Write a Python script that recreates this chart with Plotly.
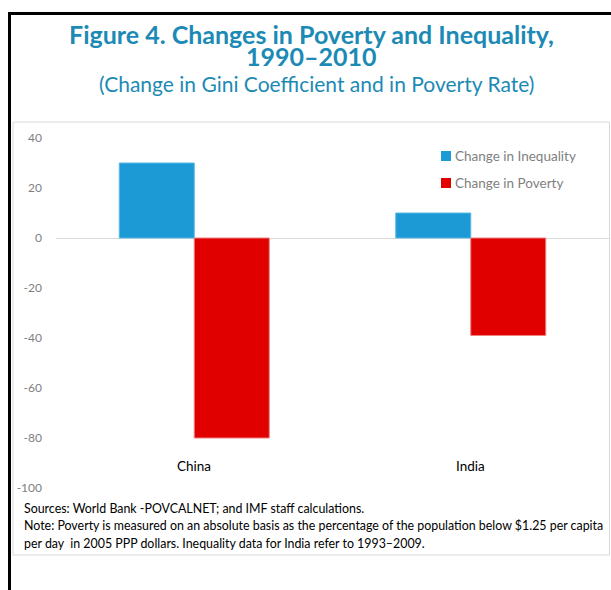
import plotly.graph_objects as go

# ---------------------------------------------
# data
# ---------------------------------------------
countries = ["China", "India"]
change_inequality = [30, 10]
change_poverty = [-80, -39]
y_ticks = [40, 20, 0, -20, -40, -60, -80, -100]
y_ticktext = ["40", "20", "0", "-20", "-40", "-60", "-80", "-100"]

series_names = ["Change in Inequality", "Change in Poverty"]
blue = "#1B9AD6"
red = "#E00000"
teal = "#1C8AB4"
grey_txt = "#7F7F7F"

W, H = 611, 590


def px_x(p):
    return p / W


def px_y(p):
    return 1 - p / H


fig = go.Figure()

fig.add_trace(go.Bar(
    x=countries, y=change_inequality, name=series_names[0],
    marker=dict(color=blue, line=dict(color="#5BB8E6", width=1)),
))
fig.add_trace(go.Bar(
    x=countries, y=change_poverty, name=series_names[1],
    marker=dict(color=red, line=dict(color="#EE8080", width=1)),
))

# category labels sit inside the plot, above the -100 tick
for c in countries:
    fig.add_annotation(x=c, y=-91, xref="x", yref="y", text=c, showarrow=False,
                       font=dict(size=13.5, color="#000000"))

# legend drawn by hand (square right next to the text)
for i, (nm, col) in enumerate(zip(series_names, [blue, red])):
    yc = 156 + 27 * i
    fig.add_shape(type="rect", xref="paper", yref="paper",
                  x0=px_x(441), x1=px_x(451), y0=px_y(yc - 5), y1=px_y(yc + 5),
                  fillcolor=col, line=dict(width=0))
    fig.add_annotation(x=px_x(453), y=px_y(yc), xref="paper", yref="paper",
                       text=nm, showarrow=False, xanchor="left", yanchor="middle",
                       font=dict(size=13.5, color=grey_txt))

# titles (one annotation per line, tight spacing like the original)
title_lines = [("<b>Figure 4. Changes in Poverty and Inequality,</b>", 34),
               ("<b>1990–2010</b>", 56)]
for t, yc in title_lines:
    fig.add_annotation(x=px_x(311), y=px_y(yc), xref="paper", yref="paper",
                       text=t, showarrow=False, yanchor="middle",
                       font=dict(size=25, color=teal))
fig.add_annotation(x=px_x(316), y=px_y(84), xref="paper", yref="paper",
                   text="(Change in Gini Coefficient and in Poverty Rate)",
                   showarrow=False, yanchor="middle",
                   font=dict(size=21, color=teal))

# source / note
notes = [
    "Sources: World Bank -POVCALNET; and IMF staff calculations.",
    "Note: Poverty is measured on an absolute basis as the percentage of the population below $1.25 per capita",
    "per day  in 2005 PPP dollars. Inequality data for India refer to 1993–2009.",
]
for i, t in enumerate(notes):
    fig.add_annotation(x=px_x(22), y=px_y(508 + 17.5 * i), xref="paper", yref="paper",
                       text=t, showarrow=False, xanchor="left", yanchor="middle",
                       font=dict(size=12.4, color="#000000"))

# light grey chart box and black page frame
fig.add_shape(type="rect", xref="paper", yref="paper", layer="below",
              x0=px_x(13), x1=px_x(609.5), y0=px_y(555), y1=px_y(122),
              line=dict(color="#D9D9D9", width=1))
fig.add_shape(type="rect", xref="paper", yref="paper",
              x0=px_x(8), x1=px_x(11), y0=px_y(590), y1=px_y(12),
              fillcolor="#000000", line=dict(width=0))
fig.add_shape(type="rect", xref="paper", yref="paper",
              x0=px_x(8), x1=px_x(611), y0=px_y(15), y1=px_y(12),
              fillcolor="#000000", line=dict(width=0))

fig.update_layout(
    width=W, height=H,
    margin=dict(l=0, r=0, t=0, b=0, pad=0),
    paper_bgcolor="white", plot_bgcolor="white",
    font=dict(family="Lato, 'Open Sans', sans-serif"),
    barmode="group", bargap=0.4575, bargroupgap=0,
    showlegend=False,
    xaxis=dict(domain=[px_x(56), px_x(609)], showticklabels=False, automargin=False,
               showgrid=False, zeroline=False, showline=False, ticks=""),
    yaxis=dict(domain=[px_y(488), px_y(138)], range=[-100, 40], automargin=False,
               tickvals=y_ticks, ticktext=y_ticktext, showgrid=False,
               zeroline=True, zerolinecolor="#D9D9D9", zerolinewidth=1,
               showline=False, ticks="", ticklabelstandoff=13,
               tickfont=dict(size=12, color=grey_txt)),
)

# pin the chart to the top-left corner so the page is exactly the figure size
pin = (
    "var d=document.getElementById('{plot_id}');"
    "d.style.position='fixed';d.style.top='0';d.style.left='0';"
    "document.body.style.cssText='margin:0;padding:0;height:590px;overflow:hidden';"
    "document.documentElement.style.cssText='margin:0;padding:0;height:590px;overflow:hidden';"
)
fig.write_html("out.html", config={"displayModeBar": False}, post_script=pin)
